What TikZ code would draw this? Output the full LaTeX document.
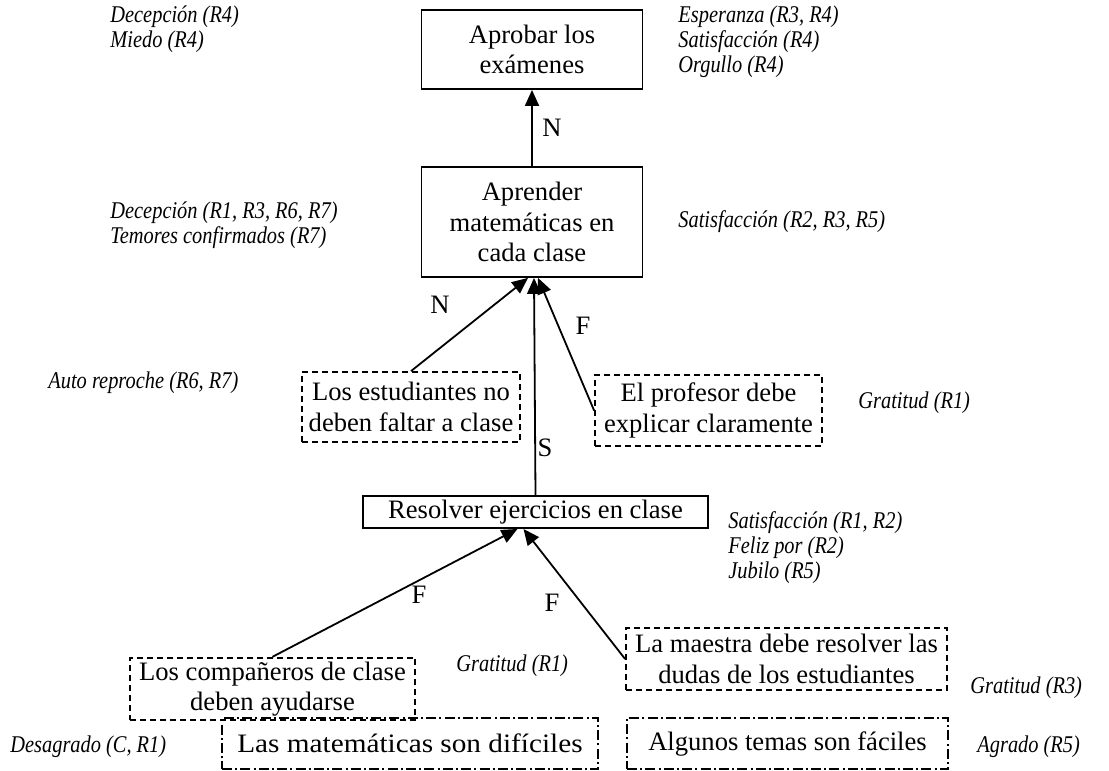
\documentclass[tikz,border=0pt]{standalone}
\usepackage{fontspec}
\setmainfont{Liberation Serif}
\newfontfamily\emofont[FakeStretch=0.85]{Liberation Serif}
\newfontfamily\widefont[FakeStretch=1.1]{Liberation Serif}
\usetikzlibrary{arrows.meta,calc}

\tikzset{
  goal/.style={draw, line width=0.9pt, align=center, inner sep=2pt,
    font=\fontsize{13.3}{15.2}\selectfont},
  norm/.style={goal, dash pattern=on 3pt off 2pt},
  attitude/.style={goal, dash pattern=on 5pt off 1.6pt on 1pt off 1.6pt},
  emo/.style={anchor=west, align=left, inner sep=0pt,
    font=\emofont\fontsize{12}{12.5}\selectfont\itshape},
  tag/.style={inner sep=0pt, font=\fontsize{13.3}{15}\selectfont},
  link/.style={line width=0.9pt, -{Triangle[length=8pt,width=7pt]}}
}

\begin{document}
\begin{tikzpicture}[x=0.5pt,y=-0.5pt]
\useasboundingbox (0,0) rectangle (1109,771);

% goals, standards and attitudes
\node[goal, minimum width=110.5pt, minimum height=39.5pt] (aprobar) at (532,49.5)
  {Aprobar los\\exámenes};
\node[goal, minimum width=110.5pt, minimum height=55pt] (aprender) at (532,222)
  {Aprender\\matemáticas en\\cada clase};
\node[norm, minimum width=109pt, minimum height=35pt] (estud) at (411,407)
  {Los estudiantes no\\deben faltar a clase};
\node[norm, minimum width=113.5pt, minimum height=35.5pt] (profesor) at (708.5,410.5)
  {El profesor debe\\explicar claramente};
\node[goal, minimum width=172.5pt, minimum height=16pt] (resolver) at (535.5,512)
  {Resolver ejercicios en clase};
\node[norm, minimum width=142.5pt, minimum height=31pt] (companeros) at (272.5,689)
  {Los compañeros de clase\\deben ayudarse};
\node[norm, minimum width=160.5pt, minimum height=31pt] (maestra) at (786.5,659)
  {La maestra debe resolver las\\dudas de los estudiantes};
\node[attitude, minimum width=188pt, minimum height=25.5pt] (dificil) at (410,743.5)
  {\widefont Las matemáticas son difíciles};
\node[attitude, minimum width=160.5pt, minimum height=25.5pt] (facil) at (787.5,743.5)
  {Algunos temas son fáciles};

% emotions
\node[emo] (e1) at (110,29) {Decepción (R4)\\Miedo (R4)};
\node[emo] (e2) at (678,42) {Esperanza (R3, R4)\\Satisfacción (R4)\\Orgullo (R4)};
\node[emo] (e3) at (110,225) {Decepción (R1, R3, R6, R7)\\Temores confirmados (R7)};
\node[emo] (e4) at (678,222) {Satisfacción (R2, R3, R5)};
\node[emo] (e5) at (48,383) {Auto reproche (R6, R7)};
\node[emo] (e6) at (858,403) {Gratitud (R1)};
\node[emo] (e7) at (728,548) {Satisfacción (R1, R2)\\Feliz por (R2)\\Jubilo (R5)};
\node[emo] (e8) at (456,666) {Gratitud (R1)};
\node[emo] (e9) at (970,688) {Gratitud (R3)};
\node[emo] (e10) at (10,747) {Desagrado (C, R1)};
\node[emo] (e11) at (977,747) {Agrado (R5)};

% links
\draw[link] (aprender.north) -- (aprobar.south);
\draw[link] (estud.north) -- ($(aprender.south)+(-4,0)$);
\draw[link] (resolver.north) -- ($(aprender.south)+(2,0)$);
\draw[link] (profesor.west) -- ($(aprender.south)+(6,0)$);
\draw[link] (companeros.north) -- ($(resolver.south)+(-18,0)$);
\draw[link] (maestra.west) -- ($(resolver.south)+(-12,0)$);

% link labels
\node[tag] (lN1) at (552,128) {N};
\node[tag] (lN2) at (440,305) {N};
\node[tag] (lF1) at (583,326) {F};
\node[tag] (lS) at (545,448) {S};
\node[tag] (lF2) at (419,595) {F};
\node[tag] (lF3) at (552,603) {F};
\end{tikzpicture}
\end{document}
